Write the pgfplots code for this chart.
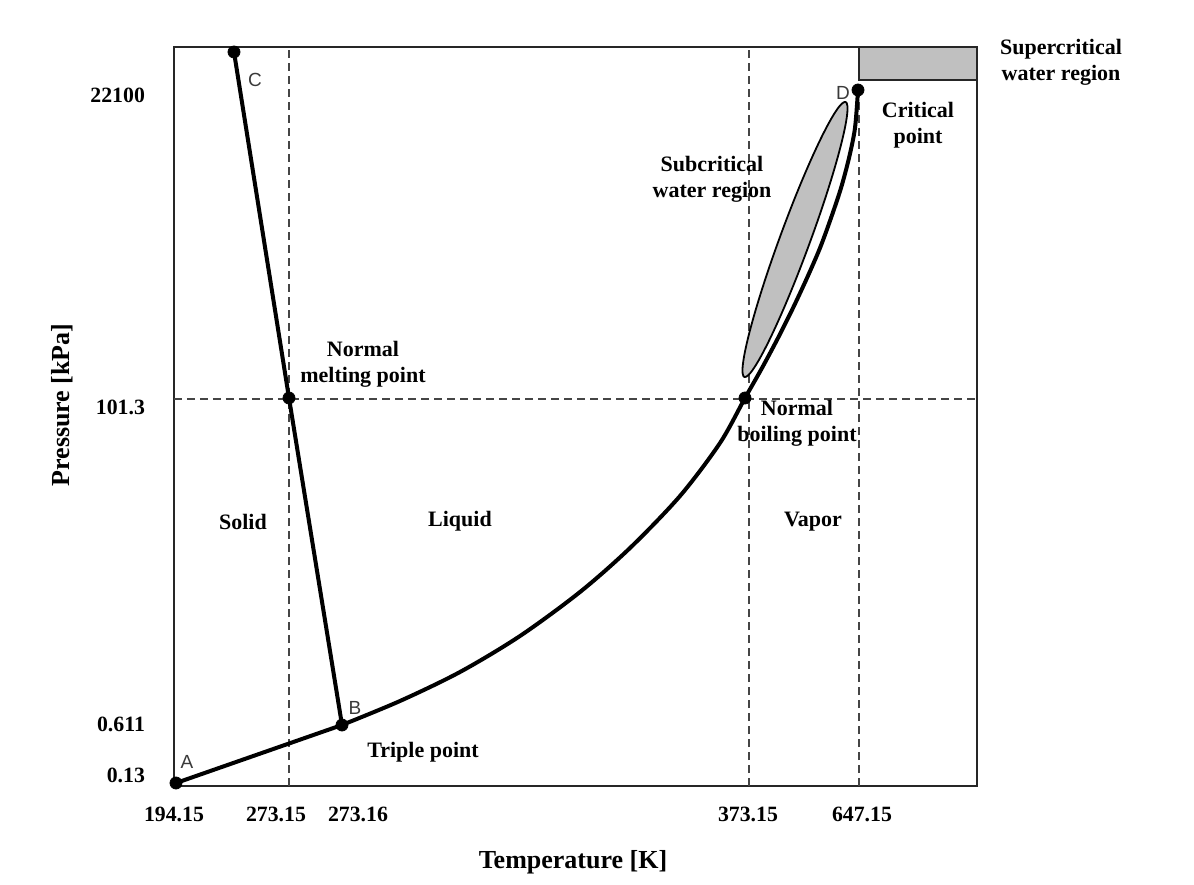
\documentclass[border=0pt]{standalone}
\usepackage{pgfplots}
\pgfplotsset{compat=1.18}
\usepackage{fontspec}
\setmainfont{Liberation Serif}
\newfontfamily\lettersf{Liberation Sans}

\definecolor{regiongray}{HTML}{C0C0C0}
\definecolor{dashgray}{HTML}{454545}
\definecolor{lettergray}{HTML}{3A3A3A}

\tikzset{
  lbl/.style={font=\fontsize{11}{13}\selectfont\bfseries, align=center},
  ptl/.style={font=\lettersf\fontsize{9.5}{11}\selectfont, text=lettergray},
  ttl/.style={font=\fontsize{13}{15}\selectfont\bfseries},
  refline/.style={dashgray, line width=0.8pt, dash pattern=on 4pt off 2.5pt},
}

\begin{document}
\begin{tikzpicture}
\begin{axis}[
  scale only axis, width=401.5pt, height=369.5pt,
  xmin=174, xmax=977, ymin=0, ymax=739,
  clip=false,
  axis line style={line width=1pt, black!85},
  major tick length=0pt,
  xtick={174,276,358,748,862},
  xticklabels={194.15,273.15,273.16,373.15,647.15},
  ytick={11,62,379,691},
  yticklabels={0.13,0.611,101.3,22100},
  ticklabel style={font=\fontsize{10.9}{12}\selectfont\bfseries},
  xticklabel style={yshift=-7pt},
  yticklabel style={xshift=-11pt},
  /pgf/number format/assume math mode=true,
]
% page frame
\path (axis cs:0,-98) rectangle (axis cs:1194,786);

% reference lines
\addplot[refline] coordinates {(289,0) (289,739)};
\addplot[refline] coordinates {(749,0) (749,739)};
\addplot[refline] coordinates {(859,0) (859,696)};
\addplot[refline] coordinates {(174,387) (977,387)};

% supercritical region
\draw[fill=regiongray, draw=black!85, line width=1pt] (axis cs:859,706) rectangle (axis cs:977,739);

% subcritical region
\draw[fill=regiongray, draw=black, line width=0.9pt, rotate around={69.8:(axis cs:795,546.5)}]
  (axis cs:795,546.5) ellipse [x radius=73.25pt, y radius=7.5pt];

% sublimation curve A-B
\addplot[black, line width=2pt] coordinates {(176,3) (342,61)};
% melting curve B-C
\addplot[black, line width=2pt] coordinates {(342,61) (289,388) (234,734)};
% vaporisation curve B-D
\addplot[black, line width=2pt, smooth] coordinates {
  (342,61) (400,85) (460,114) (520,150) (580,194) (630,238) (680,290)
  (720,343) (745,388) (762,418) (778,448) (793,478) (807,508) (820,538)
  (831,568) (841,598) (849,628) (855,658) (858,696)};

% special points
\addplot[only marks, mark=*, mark size=3pt, black] coordinates {
  (176,3) (342,61) (289,388) (745,388) (234,734) (858,696)};

% point letters
\node[ptl] at (axis cs:187,24) {A};
\node[ptl] at (axis cs:355,78) {B};
\node[ptl] at (axis cs:255,706) {C};
\node[ptl] at (axis cs:843,693) {D};

% region and point names
\node[lbl] at (axis cs:243,264) {Solid};
\node[lbl] at (axis cs:460,265) {Liquid};
\node[lbl] at (axis cs:813,264) {Vapor};
\node[lbl] at (axis cs:363,422) {Normal\\melting point};
\node[lbl] at (axis cs:797,363) {Normal\\boiling point};
\node[lbl] at (axis cs:712,607) {Subcritical\\water region};
\node[lbl] at (axis cs:918,661) {Critical\\point};
\node[lbl] at (axis cs:1061,724) {Supercritical\\water region};
\node[lbl] at (axis cs:423,34) {Triple point};

% axis titles
\node[ttl] at (axis cs:573,-76) {Temperature [K]};
\node[ttl, rotate=90] at (axis cs:62,381) {Pressure [kPa]};
\end{axis}
\end{tikzpicture}
\end{document}
